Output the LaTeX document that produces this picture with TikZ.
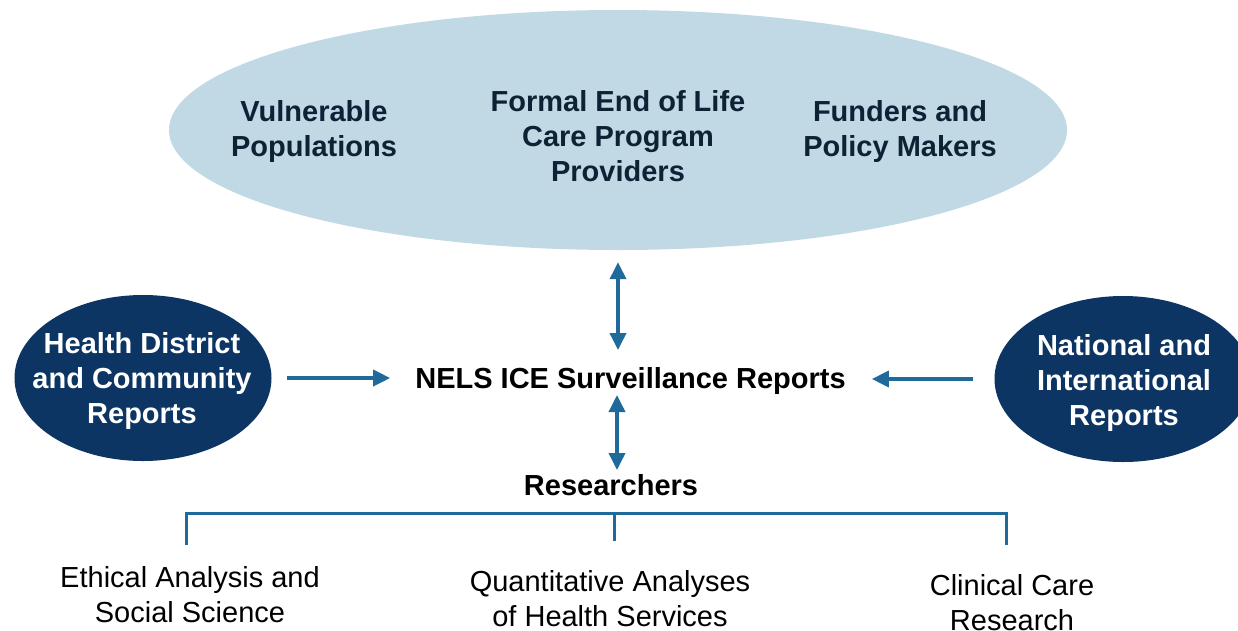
\documentclass[tikz,border=0pt]{standalone}
\usepackage{fontspec}
\setmainfont{Liberation Sans}
\usetikzlibrary{arrows.meta,shapes.geometric}
\definecolor{paleblue}{HTML}{C0D9E4}
\definecolor{navy}{HTML}{0D3563}
\definecolor{arrowblue}{HTML}{1F6A9A}
\definecolor{darktext}{HTML}{0E2236}
\begin{document}
\begin{tikzpicture}[x=1pt,y=-1pt,
  every node/.style={inner sep=0pt,font=\fontsize{29}{35}\selectfont},
  bold/.style={font=\fontsize{29}{35}\selectfont\bfseries,align=center},
  plain/.style={font=\fontsize{29}{35}\selectfont,align=center},
  cloud/.style={ellipse,fill=paleblue,minimum width=898pt,minimum height=240pt},
  source/.style={ellipse,fill=navy,minimum width=257pt,minimum height=166pt},
  srctext/.style={bold,text=white},
  flow/.style={arrowblue,line width=3.6pt,
    -{Triangle[length=17pt,width=16pt]}},
  twoway/.style={flow,{Triangle[length=17pt,width=16pt]}-{Triangle[length=17pt,width=16pt]}},
  bracket/.style={arrowblue,line width=3pt}]
\useasboundingbox (0,0) rectangle (1238,630);
\clip (0,0) rectangle (1238,630);

% stakeholders cloud
\node[cloud] (top) at (618,130) {};
\node[bold,text=darktext] (vuln) at (314,131.5) {Vulnerable\\Populations};
\node[bold,text=darktext] (prov) at (618,136) {Formal End of Life\\Care Program\\Providers};
\node[bold,text=darktext] (fund) at (900,131.5) {Funders and\\Policy Makers};

% report sources
\node[source] (hd) at (143,378) {};
\node[srctext] (hdtext) at (142,381) {Health District\\and Community\\Reports};
\node[source] (intl) at (1123,379) {};
\node[srctext] (intltext) at (1124,383) {National and\\International\\Reports};

% central reports
\node[bold] (nels) at (630.5,381) {NELS ICE Surveillance Reports};
\node[bold] (res) at (611,485) {Researchers};

% research areas
\node[plain] (eth) at (190,595) {Ethical Analysis and\\Social Science};
\node[plain] (quant) at (610,599) {Quantitative Analyses\\of Health Services};
\node[plain] (clin) at (1012,603) {Clinical Care\\Research};

% flows into and out of the reports
\draw[flow,shorten <=15pt,shorten >=25pt] (hd.east) -- (hd.east -| nels.west);
\draw[flow,shorten <=21pt,shorten >=26pt] (intl.west) -- (intl.west -| nels.east);
\draw[twoway,shorten <=12pt] (top.south) -- (top.south |- 0,350);
\coordinate (nelsbot) at (617,395);
\coordinate (restop) at (617,470);
\draw[twoway] (nelsbot) -- (restop);

% researchers bracket
\coordinate (bar) at (0,513);
\coordinate (bl) at (186,545);
\coordinate (bm) at (614,541);
\coordinate (br) at (1006,545);
\draw[bracket] (bl) -- (bl |- bar) -- (br |- bar) -- (br);
\draw[bracket] (bm |- bar) -- (bm);
\end{tikzpicture}
\end{document}
